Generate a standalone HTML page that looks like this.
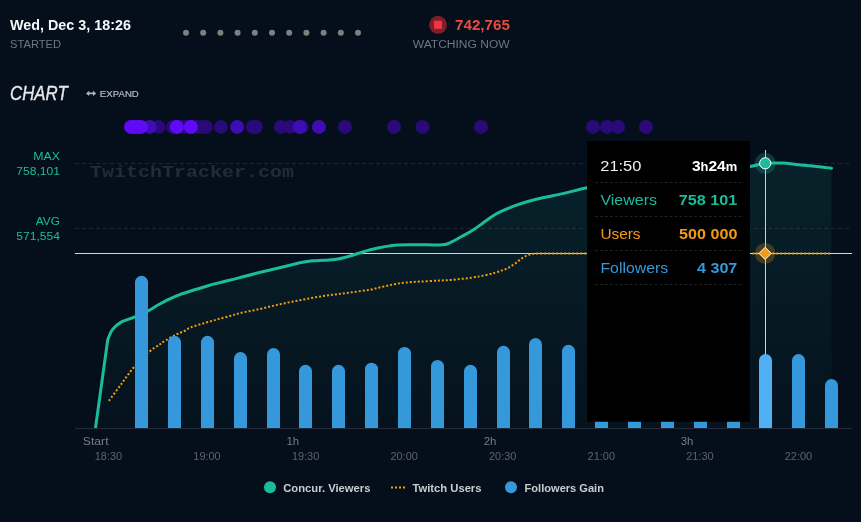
<!DOCTYPE html>
<html lang="en"><head><meta charset="utf-8"><title>Stream chart</title>
<style>html,body{margin:0;padding:0;background:#050f1c;}body{width:861px;height:522px;overflow:hidden;}svg{display:block}text{font-family:"Liberation Sans", Arial, sans-serif;}.mono{font-family:"Liberation Mono","Courier New",monospace;}</style>
</head><body>
<svg width="861" height="522" viewBox="0 0 861 522">
<defs><linearGradient id="ag" x1="0" y1="150" x2="0" y2="428" gradientUnits="userSpaceOnUse"><stop offset="0" stop-color="#1abc9c" stop-opacity="0.11"/><stop offset="1" stop-color="#1abc9c" stop-opacity="0.02"/></linearGradient></defs>
<rect width="861" height="522" fill="#050f1c"/>
<text transform="translate(10.00 29.50) scale(0.9569 1)" font-size="15" font-weight="700" fill="#f4f6f8">Wed, Dec 3, 18:26</text>
<text transform="translate(10.10 48.10) scale(0.9866 1)" font-size="11.3" fill="#6d7681">STARTED</text>
<circle cx="186.0" cy="32.7" r="3" fill="#7f7f7f"/>
<circle cx="203.2" cy="32.7" r="3" fill="#7f7f7f"/>
<circle cx="220.4" cy="32.7" r="3" fill="#7f7f7f"/>
<circle cx="237.6" cy="32.7" r="3" fill="#7f7f7f"/>
<circle cx="254.8" cy="32.7" r="3" fill="#7f7f7f"/>
<circle cx="272.0" cy="32.7" r="3" fill="#7f7f7f"/>
<circle cx="289.2" cy="32.7" r="3" fill="#7f7f7f"/>
<circle cx="306.4" cy="32.7" r="3" fill="#7f7f7f"/>
<circle cx="323.6" cy="32.7" r="3" fill="#7f7f7f"/>
<circle cx="340.8" cy="32.7" r="3" fill="#7f7f7f"/>
<circle cx="358.0" cy="32.7" r="3" fill="#7f7f7f"/>
<circle cx="438" cy="24.8" r="9" fill="#7d1f28"/>
<rect x="434" y="20.8" width="8" height="8" fill="#f5323f"/>
<text transform="translate(455.00 29.80) scale(1.0144 1)" font-size="15" font-weight="700" fill="#e74c3c">742,765</text>
<text transform="translate(412.80 48.10) scale(1.0658 1)" font-size="11.3" fill="#6d7681">WATCHING NOW</text>
<text transform="translate(10 99.8) scale(0.86 1)" x="0" y="0" font-size="19.6" font-style="italic" fill="#e6e8ea" stroke="#e6e8ea" stroke-width="0.35">CHART</text>
<path d="M86 93.4l3.2 -2.7v1.9h3.8v-1.9l3.2 2.7l-3.2 2.7v-1.9h-3.8v1.9z" fill="#b0b5bb"/>
<text x="99.8" y="96.7" font-size="9.6" fill="#b4b9bf" stroke="#b4b9bf" stroke-width="0.2" textLength="39" lengthAdjust="spacing">EXPAND</text>
<circle cx="158.5" cy="126.9" r="7" fill="#2a0a78"/>
<circle cx="173.0" cy="126.9" r="7" fill="#2a0a78"/>
<circle cx="177.0" cy="126.9" r="7" fill="#2a0a78"/>
<circle cx="181.0" cy="126.9" r="7" fill="#2a0a78"/>
<circle cx="185.0" cy="126.9" r="7" fill="#2a0a78"/>
<circle cx="189.0" cy="126.9" r="7" fill="#2a0a78"/>
<circle cx="193.0" cy="126.9" r="7" fill="#2a0a78"/>
<circle cx="197.0" cy="126.9" r="7" fill="#2a0a78"/>
<circle cx="201.0" cy="126.9" r="7" fill="#2a0a78"/>
<circle cx="205.8" cy="126.9" r="7" fill="#2a0a78"/>
<circle cx="221.0" cy="126.9" r="7" fill="#2a0a78"/>
<circle cx="252.7" cy="126.9" r="7" fill="#2a0a78"/>
<circle cx="255.9" cy="126.9" r="7" fill="#2a0a78"/>
<circle cx="280.9" cy="126.9" r="7" fill="#2a0a78"/>
<circle cx="290.0" cy="126.9" r="7" fill="#2a0a78"/>
<circle cx="301.7" cy="126.9" r="7" fill="#2a0a78"/>
<circle cx="345.0" cy="126.9" r="7" fill="#2a0a78"/>
<circle cx="394.0" cy="126.9" r="7" fill="#2a0a78"/>
<circle cx="422.5" cy="126.9" r="7" fill="#2a0a78"/>
<circle cx="481.0" cy="126.9" r="7" fill="#2a0a78"/>
<circle cx="593.0" cy="126.9" r="7" fill="#2a0a78"/>
<circle cx="607.0" cy="126.9" r="7" fill="#2a0a78"/>
<circle cx="618.1" cy="126.9" r="7" fill="#2a0a78"/>
<circle cx="646.0" cy="126.9" r="7" fill="#2a0a78"/>
<circle cx="149.8" cy="126.9" r="7" fill="#3e0db6"/>
<circle cx="237.1" cy="126.9" r="7" fill="#3e0db6"/>
<circle cx="299.7" cy="126.9" r="7" fill="#3e0db6"/>
<circle cx="318.9" cy="126.9" r="7" fill="#3e0db6"/>
<circle cx="131.0" cy="126.9" r="7" fill="#600bf8"/>
<circle cx="134.3" cy="126.9" r="7" fill="#600bf8"/>
<circle cx="137.6" cy="126.9" r="7" fill="#600bf8"/>
<circle cx="140.9" cy="126.9" r="7" fill="#600bf8"/>
<circle cx="176.8" cy="126.9" r="7" fill="#600bf8"/>
<circle cx="190.8" cy="126.9" r="7" fill="#600bf8"/>
<path d="M75 163.5H850M75 228.5H850" stroke="#1c2733" stroke-width="1" stroke-dasharray="4 3" fill="none"/>
<text class="mono" transform="translate(90 176.7) scale(1 0.87)" x="0" y="0" font-size="20" font-weight="700" fill="#212c39" textLength="204" lengthAdjust="spacing">TwitchTracker.com</text>
<text transform="translate(33.30 160.00) scale(1.0904 1)" font-size="11.3" fill="#1abc9c">MAX</text>
<text transform="translate(16.30 175.00) scale(1.0698 1)" font-size="11.3" fill="#1abc9c">758,101</text>
<text transform="translate(35.80 225.30) scale(1.0510 1)" font-size="11.3" fill="#1abc9c">AVG</text>
<text transform="translate(16.30 240.00) scale(1.0698 1)" font-size="11.3" fill="#1abc9c">571,554</text>
<path d="M95.5 428 L107.8 339.3 C108.6 337.7 110.2 332.6 112.4 329.7 C114.6 326.8 117.5 324.2 121.1 322.1 C124.6 320.1 129.1 319.3 133.7 317.4 C138.3 315.5 144.7 312.5 148.5 310.6 C152.3 308.7 153.3 307.6 156.6 305.8 C159.9 304.0 164.3 301.5 168.2 299.6 C172.1 297.7 175.9 296.1 179.8 294.6 C183.7 293.1 187.6 291.9 191.5 290.7 C195.4 289.5 199.2 288.3 203.1 287.2 C207.0 286.1 210.8 284.9 214.7 283.9 C218.6 282.9 222.4 282.0 226.3 281.0 C230.2 280.0 231.7 279.7 237.9 278.1 C244.1 276.5 254.9 273.6 263.6 271.5 C272.3 269.4 283.7 266.7 290.0 265.2 C296.3 263.7 297.5 263.2 301.2 262.5 C304.9 261.8 308.6 261.2 312.3 260.8 C316.0 260.4 319.8 260.5 323.5 260.3 C327.2 260.1 330.9 260.1 334.6 259.6 C338.3 259.1 342.1 258.3 345.8 257.3 C349.5 256.3 353.2 255.0 356.9 253.8 C360.6 252.7 364.4 251.4 368.1 250.4 C371.8 249.4 375.5 248.6 379.2 247.8 C382.9 247.0 387.3 246.3 390.4 245.8 C393.5 245.3 392.9 245.2 397.8 245.0 C402.8 244.8 412.6 244.9 420.1 244.8 C427.6 244.8 437.4 245.1 442.6 244.7 C447.8 244.3 447.9 243.6 451.1 242.2 C454.3 240.8 458.1 238.4 461.6 236.5 C465.1 234.6 468.7 232.8 472.2 230.6 C475.7 228.4 479.2 225.7 482.7 223.2 C486.2 220.7 490.0 217.8 493.2 215.8 C496.4 213.8 498.2 212.8 501.7 211.2 C505.2 209.5 510.1 207.5 514.3 205.9 C518.5 204.3 522.1 203.1 527.0 201.7 C531.9 200.3 537.5 198.9 543.8 197.5 C550.1 196.1 557.7 194.7 564.9 193.1 C572.1 191.5 577.6 189.8 586.8 187.8 C596.0 185.8 607.8 183.1 620.0 181.0 C632.2 178.9 646.7 176.8 660.0 175.0 C673.3 173.2 687.5 171.7 700.0 170.5 C712.5 169.3 726.7 168.5 735.0 167.8 C743.3 167.1 744.7 167.2 749.8 166.5 C754.9 165.8 760.2 163.9 765.5 163.3 C770.8 162.7 776.8 162.9 781.8 163.1 C786.8 163.3 791.1 163.9 795.7 164.4 C800.4 164.9 805.1 165.3 809.7 165.8 C814.4 166.3 820.0 166.9 823.6 167.3 C827.2 167.7 830.2 168.0 831.5 168.2 L831.5 428 Z" fill="url(#ag)"/>
<path d="M75 253.5H852" stroke="#d4d4d4" stroke-width="1"/>
<clipPath id="pc"><rect x="75" y="140" width="777" height="288"/></clipPath>
<path d="M95.5 428 L107.8 339.3 C108.6 337.7 110.2 332.6 112.4 329.7 C114.6 326.8 117.5 324.2 121.1 322.1 C124.6 320.1 129.1 319.3 133.7 317.4 C138.3 315.5 144.7 312.5 148.5 310.6 C152.3 308.7 153.3 307.6 156.6 305.8 C159.9 304.0 164.3 301.5 168.2 299.6 C172.1 297.7 175.9 296.1 179.8 294.6 C183.7 293.1 187.6 291.9 191.5 290.7 C195.4 289.5 199.2 288.3 203.1 287.2 C207.0 286.1 210.8 284.9 214.7 283.9 C218.6 282.9 222.4 282.0 226.3 281.0 C230.2 280.0 231.7 279.7 237.9 278.1 C244.1 276.5 254.9 273.6 263.6 271.5 C272.3 269.4 283.7 266.7 290.0 265.2 C296.3 263.7 297.5 263.2 301.2 262.5 C304.9 261.8 308.6 261.2 312.3 260.8 C316.0 260.4 319.8 260.5 323.5 260.3 C327.2 260.1 330.9 260.1 334.6 259.6 C338.3 259.1 342.1 258.3 345.8 257.3 C349.5 256.3 353.2 255.0 356.9 253.8 C360.6 252.7 364.4 251.4 368.1 250.4 C371.8 249.4 375.5 248.6 379.2 247.8 C382.9 247.0 387.3 246.3 390.4 245.8 C393.5 245.3 392.9 245.2 397.8 245.0 C402.8 244.8 412.6 244.9 420.1 244.8 C427.6 244.8 437.4 245.1 442.6 244.7 C447.8 244.3 447.9 243.6 451.1 242.2 C454.3 240.8 458.1 238.4 461.6 236.5 C465.1 234.6 468.7 232.8 472.2 230.6 C475.7 228.4 479.2 225.7 482.7 223.2 C486.2 220.7 490.0 217.8 493.2 215.8 C496.4 213.8 498.2 212.8 501.7 211.2 C505.2 209.5 510.1 207.5 514.3 205.9 C518.5 204.3 522.1 203.1 527.0 201.7 C531.9 200.3 537.5 198.9 543.8 197.5 C550.1 196.1 557.7 194.7 564.9 193.1 C572.1 191.5 577.6 189.8 586.8 187.8 C596.0 185.8 607.8 183.1 620.0 181.0 C632.2 178.9 646.7 176.8 660.0 175.0 C673.3 173.2 687.5 171.7 700.0 170.5 C712.5 169.3 726.7 168.5 735.0 167.8 C743.3 167.1 744.7 167.2 749.8 166.5 C754.9 165.8 760.2 163.9 765.5 163.3 C770.8 162.7 776.8 162.9 781.8 163.1 C786.8 163.3 791.1 163.9 795.7 164.4 C800.4 164.9 805.1 165.3 809.7 165.8 C814.4 166.3 820.0 166.9 823.6 167.3 C827.2 167.7 830.2 168.0 831.5 168.2" fill="none" stroke="#1abc9c" stroke-width="3" stroke-linejoin="round" stroke-linecap="round" clip-path="url(#pc)"/>
<path d="M108.9 400.8 C110.9 398.1 117.0 389.9 121.1 384.3 C125.2 378.8 129.1 372.8 133.7 367.5 C138.3 362.2 144.2 356.1 148.5 352.3 C152.8 348.5 157.1 346.3 159.5 344.6 C161.9 342.9 160.5 343.5 163.2 341.9 C165.9 340.3 172.1 336.6 175.6 334.8 C179.1 333.0 181.7 332.2 184.3 331.0 C186.9 329.8 187.5 328.7 191.0 327.3 C194.5 325.9 200.9 324.2 205.4 322.8 C209.9 321.4 213.8 320.4 218.0 319.2 C222.2 318.0 227.0 316.8 230.7 315.8 C234.4 314.8 235.3 314.2 240.0 313.1 C244.7 312.0 252.4 310.7 258.6 309.3 C264.8 307.9 271.0 306.3 277.2 304.9 C283.4 303.5 289.6 302.2 295.8 301.0 C302.0 299.8 308.1 298.6 314.3 297.5 C320.5 296.4 326.7 295.6 332.9 294.7 C339.1 293.8 345.3 293.1 351.5 292.3 C357.7 291.5 364.9 290.6 370.1 289.7 C375.3 288.8 378.9 287.6 382.9 286.7 C386.9 285.8 390.4 285.0 394.1 284.3 C397.8 283.6 400.9 283.1 405.2 282.6 C409.5 282.2 414.5 281.9 420.1 281.6 C425.7 281.3 433.5 280.9 438.7 280.6 C443.9 280.3 445.5 280.4 451.1 279.9 C456.7 279.4 466.6 278.4 472.2 277.6 C477.8 276.8 480.9 276.1 484.8 275.3 C488.7 274.5 492.1 273.6 495.3 272.7 C498.5 271.8 501.3 270.8 503.8 269.8 C506.3 268.8 508.0 268.0 510.1 266.8 C512.2 265.6 514.5 264.0 516.4 262.6 C518.3 261.2 519.9 259.6 521.7 258.4 C523.5 257.2 525.2 256.2 527.0 255.5 C528.8 254.8 530.5 254.3 532.2 254.0 C534.0 253.7 535.4 253.7 537.5 253.6 C539.6 253.5 543.8 253.5 545.0 253.5 L830 253.5" fill="none" stroke="#f39c12" stroke-width="2" stroke-dasharray="2 2"/>
<path d="M765.5 150V428" stroke="#d2d2d2" stroke-width="1"/>
<path d="M75 428.5H852" stroke="#232d39" stroke-width="1"/>
<path d="M135 428V282.3a6.5 6.5 0 0 1 13 0V428Z" fill="#3498db"/>
<path d="M168 428V342.3a6.5 6.5 0 0 1 13 0V428Z" fill="#3498db"/>
<path d="M201 428V342.3a6.5 6.5 0 0 1 13 0V428Z" fill="#3498db"/>
<path d="M234 428V358.5a6.5 6.5 0 0 1 13 0V428Z" fill="#3498db"/>
<path d="M267 428V354.5a6.5 6.5 0 0 1 13 0V428Z" fill="#3498db"/>
<path d="M299 428V371.3a6.5 6.5 0 0 1 13 0V428Z" fill="#3498db"/>
<path d="M332 428V371.3a6.5 6.5 0 0 1 13 0V428Z" fill="#3498db"/>
<path d="M365 428V369.2a6.5 6.5 0 0 1 13 0V428Z" fill="#3498db"/>
<path d="M398 428V353.4a6.5 6.5 0 0 1 13 0V428Z" fill="#3498db"/>
<path d="M431 428V366.4a6.5 6.5 0 0 1 13 0V428Z" fill="#3498db"/>
<path d="M464 428V371.3a6.5 6.5 0 0 1 13 0V428Z" fill="#3498db"/>
<path d="M497 428V352.3a6.5 6.5 0 0 1 13 0V428Z" fill="#3498db"/>
<path d="M529 428V344.5a6.5 6.5 0 0 1 13 0V428Z" fill="#3498db"/>
<path d="M562 428V351.3a6.5 6.5 0 0 1 13 0V428Z" fill="#3498db"/>
<path d="M595 428V346.5a6.5 6.5 0 0 1 13 0V428Z" fill="#3498db"/>
<path d="M628 428V356.5a6.5 6.5 0 0 1 13 0V428Z" fill="#3498db"/>
<path d="M661 428V356.5a6.5 6.5 0 0 1 13 0V428Z" fill="#3498db"/>
<path d="M694 428V356.5a6.5 6.5 0 0 1 13 0V428Z" fill="#3498db"/>
<path d="M727 428V356.5a6.5 6.5 0 0 1 13 0V428Z" fill="#3498db"/>
<path d="M759 428V360.5a6.5 6.5 0 0 1 13 0V428Z" fill="#4fb0f3"/>
<path d="M792 428V360.5a6.5 6.5 0 0 1 13 0V428Z" fill="#3498db"/>
<path d="M825 428V385.5a6.5 6.5 0 0 1 13 0V428Z" fill="#3498db"/>
<circle cx="765.2" cy="163.3" r="10.5" fill="#1abc9c" fill-opacity="0.25"/>
<circle cx="765.2" cy="163.3" r="5.6" fill="#1abc9c" stroke="#ffffff" stroke-width="1"/>
<circle cx="765.1" cy="253.4" r="10.3" fill="#f39c12" fill-opacity="0.25"/>
<path d="M765.1 247.3l6.1 6.1l-6.1 6.1l-6.1 -6.1z" fill="#f39c12" stroke="#ffffff" stroke-width="1"/>
<rect x="587" y="141" width="163" height="280.7" rx="1" fill="#000000"/>
<path d="M595.3 182.5H741.8" stroke="#242424" stroke-width="1" stroke-dasharray="2.6 2.35"/>
<path d="M595.3 216.5H741.8" stroke="#242424" stroke-width="1" stroke-dasharray="2.6 2.35"/>
<path d="M595.3 250.5H741.8" stroke="#242424" stroke-width="1" stroke-dasharray="2.6 2.35"/>
<path d="M595.3 284.5H741.8" stroke="#242424" stroke-width="1" stroke-dasharray="2.6 2.35"/>
<text transform="translate(600.30 170.90) scale(1.0805 1)" font-size="15.2" fill="#f0f0f0">21:50</text>
<text transform="translate(691.9 170.9) scale(1.0257 1)" font-size="15.2" font-weight="700" fill="#ffffff">3<tspan font-size="12.6">h</tspan>24<tspan font-size="12.6">m</tspan></text>
<text transform="translate(600.40 204.60) scale(1.0523 1)" font-size="15.2" fill="#1abc9c">Viewers</text>
<text transform="translate(678.80 204.60) scale(1.0665 1)" font-size="15.2" font-weight="700" fill="#1abc9c">758 101</text>
<text transform="translate(600.40 238.60) scale(1.0128 1)" font-size="15.2" fill="#f39c12">Users</text>
<text transform="translate(679.10 238.60) scale(1.0611 1)" font-size="15.2" font-weight="700" fill="#f39c12">500 000</text>
<text transform="translate(600.40 272.60) scale(1.0425 1)" font-size="15.2" fill="#3498db">Followers</text>
<text transform="translate(696.90 272.60) scale(1.0647 1)" font-size="15.2" font-weight="700" fill="#3498db">4 307</text>
<text transform="translate(82.85 445.00) scale(1.0582 1)" font-size="11.5" fill="#777c84">Start</text>
<text transform="translate(286.49 445.00) scale(0.9928 1)" font-size="11.5" fill="#777c84">1h</text>
<text transform="translate(483.63 445.00) scale(0.9928 1)" font-size="11.5" fill="#777c84">2h</text>
<text transform="translate(680.77 445.00) scale(0.9928 1)" font-size="11.5" fill="#777c84">3h</text>
<text transform="translate(94.74 460.00) scale(0.9954 1)" font-size="11" fill="#5c626b">18:30</text>
<text transform="translate(193.31 460.00) scale(0.9954 1)" font-size="11" fill="#5c626b">19:00</text>
<text transform="translate(291.88 460.00) scale(0.9954 1)" font-size="11" fill="#5c626b">19:30</text>
<text transform="translate(390.45 460.00) scale(0.9954 1)" font-size="11" fill="#5c626b">20:00</text>
<text transform="translate(489.02 460.00) scale(0.9954 1)" font-size="11" fill="#5c626b">20:30</text>
<text transform="translate(587.59 460.00) scale(0.9954 1)" font-size="11" fill="#5c626b">21:00</text>
<text transform="translate(686.17 460.00) scale(0.9954 1)" font-size="11" fill="#5c626b">21:30</text>
<text transform="translate(784.74 460.00) scale(0.9954 1)" font-size="11" fill="#5c626b">22:00</text>
<circle cx="270" cy="487.2" r="6" fill="#1abc9c"/>
<text transform="translate(283.20 492.10) scale(0.9790 1)" font-size="11.5" font-weight="700" fill="#c9cdd1">Concur. Viewers</text>
<path d="M391 487.5H407" stroke="#f39c12" stroke-width="2" stroke-dasharray="2 2"/>
<text transform="translate(412.40 492.10) scale(0.9785 1)" font-size="11.5" font-weight="700" fill="#c9cdd1">Twitch Users</text>
<circle cx="511" cy="487.2" r="6" fill="#3498db"/>
<text transform="translate(524.60 492.10) scale(0.9632 1)" font-size="11.5" font-weight="700" fill="#c9cdd1">Followers Gain</text>
</svg>
</body></html>
